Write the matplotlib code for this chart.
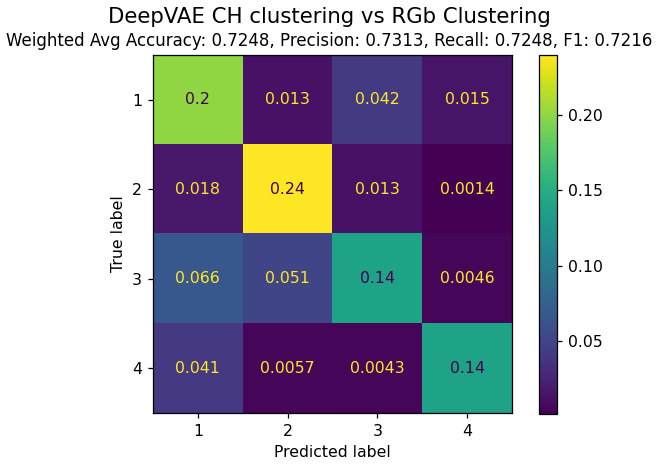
import matplotlib
matplotlib.use('Agg')

import numpy as np
from matplotlib import pyplot as plt

labels = ['1', '2', '3', '4']
cm = np.array([
    [0.2,   0.013,  0.042,  0.015],
    [0.018, 0.24,   0.013,  0.0014],
    [0.066, 0.051,  0.14,   0.0046],
    [0.041, 0.0057, 0.0043, 0.14],
])
title = 'DeepVAE CH clustering vs RGb Clustering'
subtitle = 'Weighted Avg Accuracy: 0.7248, Precision: 0.7313, Recall: 0.7248, F1: 0.7216'


def main(output='out.png'):
    dpi = 113
    W, H = 659, 465
    fig = plt.figure(figsize=(W / dpi, H / dpi), dpi=dpi)
    ax = fig.add_axes([153 / W, 1 - 413 / H, 359 / W, 358 / H])
    cax = fig.add_axes([539 / W, 1 - 414 / H, 18 / W, 359 / H])

    cmap = plt.get_cmap('viridis')
    im = ax.imshow(cm, cmap=cmap, interpolation='nearest', aspect='auto')
    fig.colorbar(im, cax=cax, ticks=[0.05, 0.10, 0.15, 0.20])

    # text colour flips at the midpoint, like sklearn's display
    thresh = (cm.max() + cm.min()) / 2.0
    lo, hi = cmap(0.0), cmap(1.0)
    for i in range(cm.shape[0]):
        for j in range(cm.shape[1]):
            ax.text(j, i, format(cm[i, j], '.2g'), ha='center', va='center',
                    color=lo if cm[i, j] >= thresh else hi, fontsize=10)

    ax.set_xticks(range(len(labels)))
    ax.set_xticklabels(labels)
    ax.set_yticks(range(len(labels)))
    ax.set_yticklabels(labels)
    ax.set_xlabel('Predicted label')
    ax.set_ylabel('True label')
    ax.set_title(subtitle, fontsize=10.6, x=0.49)
    fig.suptitle(title, fontsize=13.5, y=0.985)

    fig.savefig(output, dpi=dpi)


if __name__ == '__main__':
    main()
